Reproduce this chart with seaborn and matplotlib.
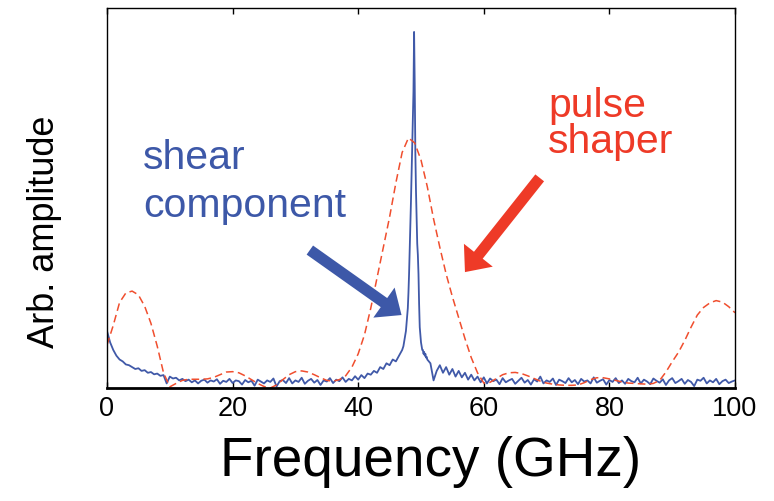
import numpy as np
import pandas as pd
import matplotlib
matplotlib.use("Agg")
import matplotlib.pyplot as plt
import seaborn as sns

# ---------------- data ----------------
red_freq = list(range(0, 101))
red_amp = [
    0.113, 0.165, 0.225, 0.25, 0.255, 0.245, 0.215, 0.17, 0.11, 0.04, 0.003,
    0.012, 0.02, 0.023, 0.023, 0.023, 0.024, 0.028, 0.035, 0.042, 0.043,
    0.04, 0.032, 0.022, 0.012, 0.004, 0.0, 0.008, 0.022, 0.035, 0.043,
    0.045, 0.042, 0.035, 0.027, 0.02, 0.018, 0.022, 0.032, 0.055,
    0.09, 0.14, 0.21, 0.29, 0.37, 0.45, 0.54, 0.62, 0.658, 0.645, 0.60,
    0.53, 0.445, 0.37, 0.30, 0.24, 0.185, 0.13, 0.08, 0.04, 0.013,
    0.015, 0.025, 0.035, 0.04, 0.041, 0.038, 0.032, 0.025, 0.018, 0.013,
    0.01, 0.008, 0.007, 0.007, 0.008, 0.014, 0.022, 0.027, 0.027, 0.024,
    0.02, 0.016, 0.013, 0.012, 0.011, 0.01, 0.012, 0.02, 0.042, 0.069,
    0.094, 0.125, 0.16, 0.192, 0.212, 0.224, 0.23, 0.226, 0.214, 0.198,
]

# blue spectrum: 0 .. 46.5 GHz (0.5 GHz step)
blue_low_amp = [
    0.15, 0.12, 0.10, 0.085, 0.075, 0.07, 0.062, 0.06, 0.055, 0.05, 0.052, 0.045,
    0.047, 0.04, 0.042, 0.036, 0.038, 0.032, 0.034, 0.012, 0.03, 0.025, 0.027, 0.02,
    0.024, 0.018, 0.022, 0.015, 0.02, 0.012, 0.019, 0.022, 0.014, 0.02,
    0.017, 0.023, 0.011, 0.019, 0.016, 0.024, 0.013, 0.02, 0.018, 0.009,
    0.021, 0.015, 0.019, 0.006, 0.022, 0.017, 0.012, 0.02, 0.016, 0.025,
    0.004, 0.018, 0.021, 0.013, 0.026, 0.012, 0.02, 0.016, 0.027, 0.011,
    0.019, 0.024, 0.014, 0.021, 0.008, 0.02, 0.017, 0.026, 0.013, 0.022,
    0.018, 0.028, 0.016, 0.024, 0.02, 0.031, 0.022, 0.034, 0.026, 0.038,
    0.035, 0.045, 0.04, 0.055, 0.05, 0.065, 0.06, 0.075, 0.07, 0.085,
]
# blue spectrum: 47.0 .. 51.0 GHz (0.1 GHz step), the shear peak
blue_peak_amp = [
    0.10, 0.105, 0.11, 0.12, 0.13, 0.14, 0.15, 0.17, 0.19, 0.21,
    0.25, 0.30, 0.36, 0.43, 0.49, 0.56, 0.63, 0.70, 0.78, 0.937,
    0.80, 0.62, 0.52, 0.45, 0.38, 0.35, 0.30, 0.22, 0.16, 0.14,
    0.12, 0.11, 0.10, 0.10, 0.09, 0.095, 0.085, 0.09, 0.08, 0.082, 0.075,
]
# blue spectrum: 51.5 .. 100 GHz (0.5 GHz step)
blue_high_amp = [
    0.065, 0.02, 0.045, 0.06, 0.04, 0.055, 0.035, 0.05, 0.03, 0.045, 0.028, 0.04,
    0.022, 0.035, 0.02, 0.03, 0.015, 0.028,
    0.012, 0.025, 0.018, 0.022, 0.01, 0.026, 0.015, 0.02, 0.024, 0.011,
    0.019, 0.027, 0.014, 0.021, 0.009, 0.023, 0.017, 0.03, 0.012, 0.02,
    0.016, 0.025, 0.008, 0.022, 0.018, 0.013, 0.026, 0.015, 0.021, 0.01,
    0.024, 0.017, 0.02, 0.012, 0.028, 0.014, 0.019, 0.023, 0.009, 0.021,
    0.016, 0.026, 0.013, 0.02, 0.011, 0.024, 0.018, 0.015, 0.027, 0.012,
    0.022, 0.017, 0.01, 0.025, 0.019, 0.014, 0.023, 0.008, 0.02, 0.026,
    0.013, 0.018, 0.024, 0.011, 0.021, 0.016, 0.005, 0.022, 0.019, 0.027,
    0.012, 0.02, 0.015, 0.024, 0.01, 0.018, 0.022, 0.013, 0.017, 0.02,
]
x_ticks = [0, 20, 40, 60, 80, 100]
x_tick_labels = ["0", "20", "40", "60", "80", "100"]
x_label = "Frequency (GHz)"
y_label = "Arb. amplitude"
shear_text = ["shear", "component"]
shaper_text = ["pulse", "shaper"]

blue_freq = np.concatenate([
    np.linspace(0, 46.5, len(blue_low_amp)),
    np.linspace(47.0, 51.0, len(blue_peak_amp)),
    np.linspace(51.5, 100, len(blue_high_amp)),
])
blue_amp = np.array(blue_low_amp + blue_peak_amp + blue_high_amp)

blue_df = pd.DataFrame({"freq": blue_freq, "amp": blue_amp})
red_df = pd.DataFrame({"freq": red_freq, "amp": red_amp})

# ---------------- style ----------------
sns.set_style("white")
plt.rcParams["font.family"] = ["Liberation Sans", "DejaVu Sans"]

BLUE_LINE = "#4059A8"
BLUE = "#3D58A8"
RED = "#EE3A27"
RED_LINE = "#F04E2E"

W, H = 774, 501
fig = plt.figure(figsize=(W / 100, H / 100), dpi=100)
ax = fig.add_axes([107 / W, 1 - 388 / H, (735 - 107) / W, (388 - 8) / H])

sns.lineplot(data=blue_df, x="freq", y="amp", ax=ax, color=BLUE_LINE,
             lw=1.3, sort=False, estimator=None)
sns.lineplot(data=red_df, x="freq", y="amp", ax=ax, color=RED_LINE,
             lw=1.1, sort=False, estimator=None)
ax.lines[-1].set_dashes((5.0, 2.8))

ax.set_xlim(0, 100)
ax.set_ylim(0, 1)
ax.set_xticks(x_ticks)
ax.set_xticklabels(x_tick_labels)
ax.set_yticks([])
ax.set_xlabel("")
ax.set_ylabel("")
ax.tick_params(axis="x", direction="in", length=4.5, width=1, top=True,
               bottom=True, labelsize=19.5, pad=6, colors="black")

for side in ["left", "right", "top"]:
    ax.spines[side].set_color("black")
    ax.spines[side].set_linewidth(1.0)
ax.spines["bottom"].set_color("black")
ax.spines["bottom"].set_linewidth(2.0)

# axis labels
fig.text(431 / W, 1 - 462 / H, x_label, ha="center", va="center",
         fontsize=39.5, color="black")
fig.text(45 / W, 1 - 232 / H, y_label, ha="center", va="center",
         rotation=90, fontsize=26, color="black")

# annotations
fig.text(143 / W, 1 - 169 / H, shear_text[0], ha="left", va="baseline",
         fontsize=29.5, color=BLUE)
fig.text(143 / W, 1 - 217 / H, shear_text[1], ha="left", va="baseline",
         fontsize=29.5, color=BLUE)
fig.text(548 / W, 1 - 117 / H, shaper_text[0], ha="left", va="baseline",
         fontsize=29.5, color=RED)
fig.text(548 / W, 1 - 153 / H, shaper_text[1], ha="left", va="baseline",
         fontsize=29.5, color=RED)

arrow_style = "simple,head_length=1.55,head_width=2.65,tail_width=0.8"
ax.annotate("", xy=(46.9, 0.192), xytext=(32.3, 0.363),
            arrowprops=dict(arrowstyle=arrow_style, mutation_scale=10,
                            color=BLUE, lw=0, shrinkA=0, shrinkB=0))
ax.annotate("", xy=(57.0, 0.305), xytext=(68.9, 0.553),
            arrowprops=dict(arrowstyle=arrow_style, mutation_scale=10,
                            color=RED, lw=0, shrinkA=0, shrinkB=0))

fig.savefig("out.png", dpi=100)
